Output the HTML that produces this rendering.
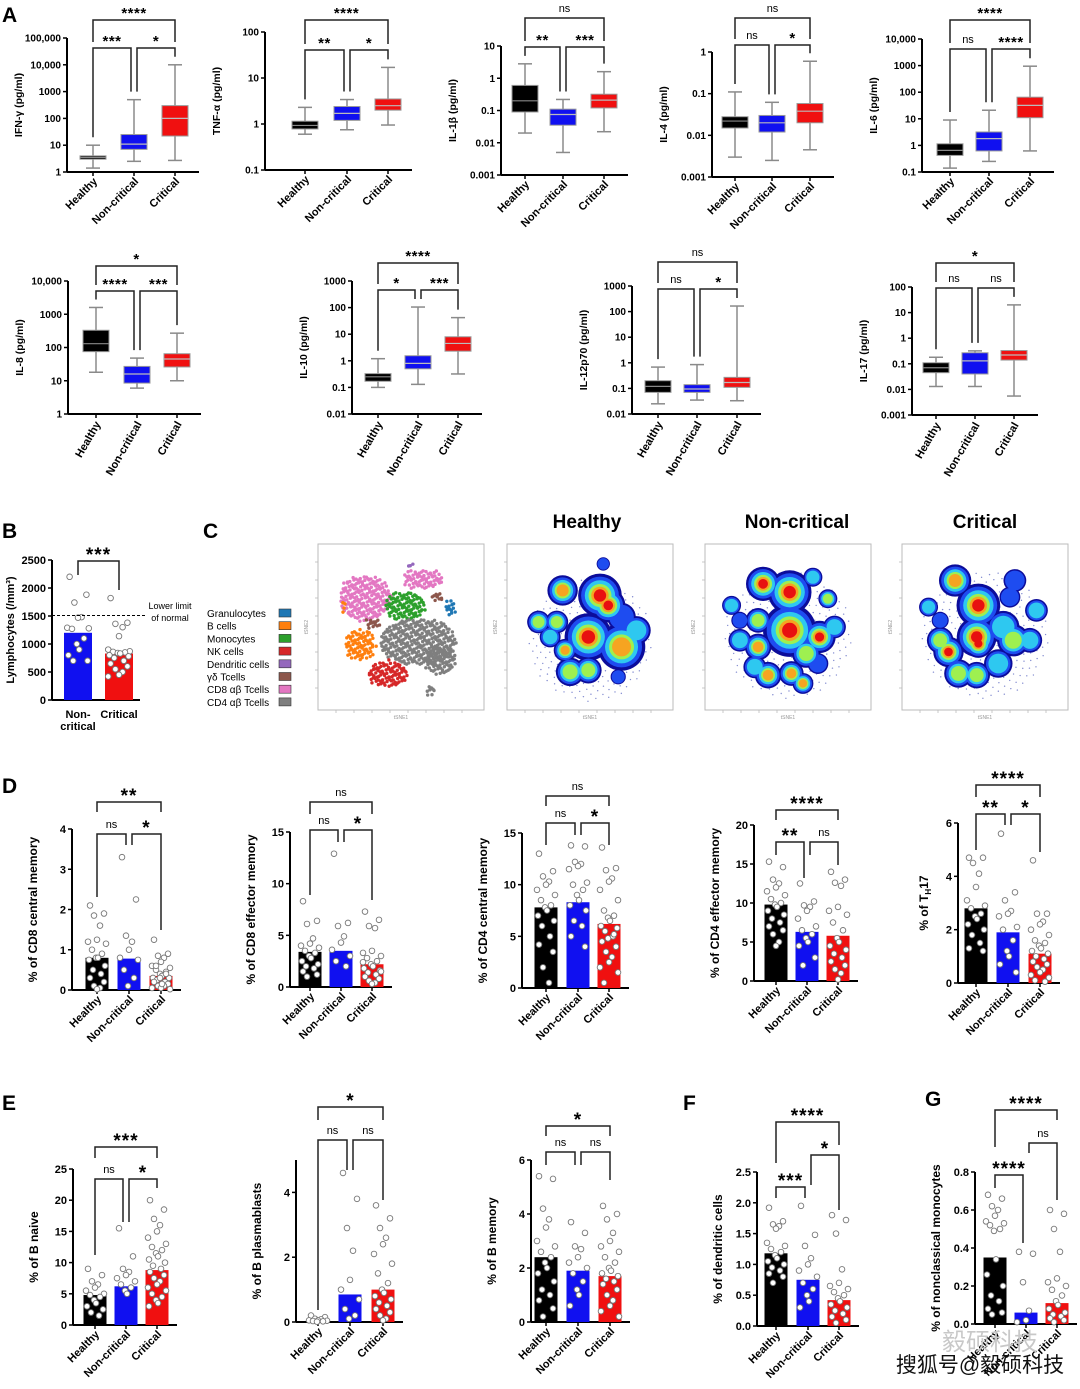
<!DOCTYPE html>
<html><head><meta charset="utf-8">
<style>
html,body{margin:0;padding:0;background:#fff;}
svg{display:block;font-family:"Liberation Sans","Noto Sans CJK SC",sans-serif;}
</style></head>
<body>
<svg id="fig" width="1080" height="1389" viewBox="0 0 1080 1389" xmlns="http://www.w3.org/2000/svg">
<rect x="0" y="0" width="1080" height="1389" fill="#fff"/>
</svg>
<script>
// ===== DATA =====
const categories = ['Healthy','Non-critical','Critical'];
// box stats per group: [min, q1, median, q3, max]
const ifnStats  = [[1.4,3,3.5,4,10],[2.5,7,11,25,500],[2.7,22,100,300,10000]];
const tnfStats  = [[0.6,0.78,0.93,1.15,2.3],[0.75,1.2,1.7,2.4,3.4],[0.95,2,2.5,3.5,17]];
const il1bStats = [[0.02,0.09,0.2,0.6,2.8],[0.005,0.035,0.075,0.11,0.22],[0.022,0.12,0.21,0.32,1.6]];
const il4Stats  = [[0.003,0.015,0.022,0.028,0.11],[0.0025,0.012,0.02,0.03,0.062],[0.0045,0.02,0.038,0.058,0.6]];
const il6Stats  = [[0.14,0.42,0.65,1.15,9],[0.25,0.62,1.8,3.2,21],[0.62,11,32,65,950]];
const il8Stats  = [[18,75,130,330,1600],[6,8.5,16,27,48],[10,26,45,65,270]];
const il10Stats = [[0.1,0.17,0.25,0.33,1.2],[0.13,0.5,0.8,1.55,105],[0.32,2.3,4.5,8,42]];
const il12Stats = [[0.025,0.07,0.12,0.2,0.68],[0.035,0.07,0.095,0.14,0.85],[0.033,0.11,0.17,0.27,165]];
const il17Stats = [[0.013,0.045,0.07,0.11,0.18],[0.013,0.04,0.13,0.27,0.32],[0.0055,0.14,0.22,0.33,20]];
const ifnTicks  = ['1','10','100','1000','10,000','100,000'];
const tnfTicks  = ['0.1','1','10','100'];
const il1bTicks = ['0.001','0.01','0.1','1','10'];
const il4Ticks  = ['0.001','0.01','0.1','1'];
const il6Ticks  = ['0.1','1','10','100','1000','10,000'];
const il8Ticks  = ['1','10','100','1000','10,000'];
const il10Ticks = ['0.01','0.1','1','10','100','1000'];
const il12Ticks = ['0.01','0.1','1','10','100','1000'];
const il17Ticks = ['0.001','0.01','0.1','1','10','100'];

// bar means
const cd8cmMeans = [0.8,0.78,0.35];
const cd8emMeans = [3.4,3.5,2.2];
const cd4cmMeans = [7.8,8.3,6.2];
const cd4emMeans = [9.8,6.3,5.8];
const th17Means  = [2.8,1.9,1.1];
const bnaiveMeans= [4.8,6.2,8.8];
const bplasMeans = [0.05,0.85,1.0];
const bmemMeans  = [2.4,1.9,1.7];
const dcMeans    = [1.18,0.75,0.42];
const ncmMeans   = [0.35,0.06,0.11];
// individual points
const cd8cmPts = [[2.1,1.9,1.85,1.6,1.25,1.2,1.15,1.0,0.9,0.8,0.8,0.75,0.6,0.5,0.4,0.3,0.2,0.1,0.05,0.02],[3.3,2.25,1.35,1.2,1.0,0.8,0.75,0.5,0.3,0.1],[1.25,0.9,0.85,0.8,0.7,0.6,0.55,0.5,0.45,0.4,0.35,0.3,0.3,0.25,0.2,0.2,0.15,0.1,0.1,0.05,0.05,0.02,0.6,0.4,0.3,0.15]];
const cd8emPts = [[8.3,6.4,6.1,4.7,4.2,4,3.8,3.5,3.3,3,2.8,2.5,2.2,2,1.8,1.5,1.2,1.0],[12.9,6.2,5.9,4.9,4.3,3.6,3,2.5,2],[7.3,6.5,5.9,5.7,3.5,3.3,3,2.8,2.5,2.2,2,1.8,1.6,1.4,1.2,1,0.8,0.6,0.4,0.3,2.4,1.5]];
const cd4cmPts = [[13,11.3,10.8,10.3,10,9.5,9,8.5,8,7.8,7.5,7,6.5,6,5,4.2,3.5,2,0.5],[13.8,13.7,12.2,12,11.8,11.5,10.2,10,9.5,9,8.5,8,7.5,6.5,6,5,4],[13.6,11.6,11.4,10.6,10.3,9.5,8.5,7.5,7,6.8,6.5,6,5.8,5.5,5,4.5,4,3.5,3,2.5,2,1.5,0.5,5.2,4.8]];
const cd4emPts = [[15.3,14.6,13,12.5,12,11.5,11,10.5,10,9.8,9.5,9,8.5,8,7.5,7,6.5,6,5,4.5],[12.5,10.2,9.7,9.5,9,8,7,6.5,6,5.5,5,4.5,3,2],[14,13,12.6,12.2,9.5,9,8.5,7.5,6.5,5.5,5,4.5,4,3.5,3,2.5,2,1.5,1,0.2]];
const th17Pts  = [[4.7,4.7,4.5,4.1,3.6,3.1,2.9,2.8,2.6,2.5,2.4,2.2,2,1.8,1.5,1.3,1.2],[5.6,3.4,3.1,2.7,2.6,2.5,2.1,2,1.6,1.2,1,0.7,0.4],[4.6,2.6,2.6,2.3,2.2,2,1.8,1.6,1.5,1.4,1.3,1.2,1.1,1,0.9,0.8,0.7,0.6,0.5,0.4,0.3,0.2,0.1,0.05]];
const bnaivePts= [[9,8,7,6.5,6,5.5,5,4.8,4.5,4,3.5,3,2.5,2,1.5],[15.5,11,9,8.5,8,7.5,7,6.5,6,5.5,5],[20,18.5,17,16,15,14,13,12.5,12,11.5,11,10.5,10,9.5,9,8.5,8,7.5,7,6.5,6,5.5,5,4.5,4,3.5,3]];
const bplasPts = [[0.2,0.15,0.1,0.08,0.05,0.05,0.04,0.03,0.02,0.01],[4.6,3.8,2.9,2.2,1.3,1.0,0.7,0.4,0.2,0.1],[3.6,3.2,2.9,2.6,2.4,2.1,1.8,1.5,1.2,1,0.9,0.8,0.7,0.6,0.5,0.4,0.3,0.2,0.1,0.05]];
const bmemPts  = [[5.4,5.3,4.2,3.8,3.5,3,2.8,2.6,2.4,2.2,2,1.8,1.5,1.2,1.0,0.8,0.5,0.2],[3.7,3.3,2.8,2.7,2.4,2.2,2,1.8,1.5,1.2,1,0.6],[4.3,4,3.8,3.3,3,2.8,2.6,2.4,2.2,2,1.9,1.8,1.7,1.6,1.5,1.4,1.2,1,0.8,0.6,0.4,0.2]];
const dcPts    = [[1.92,1.7,1.65,1.62,1.58,1.35,1.3,1.25,1.2,1.15,1.1,1.05,1.0,0.95,0.9,0.85,0.8,0.7],[1.95,1.48,1.3,1.1,1.0,0.9,0.8,0.7,0.6,0.5,0.4,0.3],[1.8,1.72,1.5,0.92,0.7,0.65,0.6,0.55,0.5,0.45,0.4,0.35,0.3,0.25,0.2,0.15,0.1,0.05]];
const ncmPts   = [[0.68,0.66,0.62,0.6,0.57,0.54,0.53,0.52,0.5,0.49,0.34,0.26,0.2,0.15,0.12,0.08,0.06,0.05],[0.38,0.37,0.22,0.07,0.02,0.01],[0.6,0.58,0.5,0.38,0.24,0.22,0.2,0.18,0.15,0.12,0.1,0.08,0.06,0.05,0.04,0.03,0.02,0.01]];
// panel B
const lymphGroups = ['Non-\ncritical','Critical'];
const lymphMeans = [1200,830];
const lymphPts = [[2200,1880,1740,1480,1470,1290,1280,1270,1100,1000,900,800,700,700],[1820,1380,1360,1300,1140,900,870,860,850,840,830,800,780,750,700,650,600,550,500,450,420]];
const lymphTicks = [0,500,1000,1500,2000,2500];
const lymphLowerLimit = 1510;
// tSNE legend
const popNames = ['Granulocytes','B cells','Monocytes','NK cells','Dendritic cells','γδ Tcells','CD8 αβ Tcells','CD4 αβ Tcells'];
const popColors = ['#1f77b4','#ff7f0e','#2ca02c','#d62728','#9467bd','#8c564b','#e377c2','#7f7f7f'];

// ===== HELPERS =====
const NS='http://www.w3.org/2000/svg';
const svg=document.getElementById('fig');
const grpColors=['#000000','#1010f0','#f01010'];
function el(tag,attrs,parent,text){
  const e=document.createElementNS(NS,tag);
  for(const k in attrs) e.setAttribute(k,attrs[k]);
  if(text!==undefined) e.textContent=text;
  (parent||svg).appendChild(e); return e;
}
function group(name){const g=el('g',{});return g;}
function line(g,x1,y1,x2,y2,c,w){return el('line',{x1,y1,x2,y2,stroke:c||'#000','stroke-width':w||1.5},g);}
function txt(g,x,y,s,opt){opt=opt||{};return el('text',{x,y,'font-size':opt.size||11,'font-weight':opt.weight||'bold','text-anchor':opt.anchor||'middle',fill:opt.fill||'#000',transform:opt.rot!==undefined?`rotate(${opt.rot} ${x} ${y})`:''},g,s);}
function sigLabel(g,x,y,s,big){
  if(s==='ns') txt(g,x,y,s,{size:11,weight:'normal'});
  else {const t=txt(g,x,y+(big?6:4),s,{size:big?19:15});t.setAttribute('letter-spacing',big?'1':'0.5');}
}
function bracket(g,xs,b,big){ // [i,j,y,legLeftEnd,legRightEnd,label]
  const [i,j,y,l1,l2,lab]=b;
  const xa=xs[i]+(i===1?3:0), xb=xs[j]-(j===1?3:0);
  el('polyline',{points:`${xa},${l1} ${xa},${y} ${xb},${y} ${xb},${l2}`,fill:'none',stroke:'#222','stroke-width':1.5},g);
  sigLabel(g,(xa+xb)/2,y-6,lab,big);
}
function catLabels(g,xs,bot,rot){
  xs.forEach((x,i)=>{
    const t=txt(g,x+5,bot+10,categories[i],{size:11,anchor:'end',rot:rot});
    
    
  });
}

// ===== BOX PANELS (A) =====
const boxPanels=[
 {name:'ifn-gamma',title:'IFN-γ (pg/ml)',stats:ifnStats,ticks:ifnTicks,lmin:0,lmax:5,ax:67,top:38,bot:172,xs:[93,134,175],tY:20,lY:48,sig:['****','***','*'],rot:-45},
 {name:'tnf-alpha',title:'TNF-α (pg/ml)',stats:tnfStats,ticks:tnfTicks,lmin:-1,lmax:2,ax:265,top:32,bot:170,xs:[305,347,388],tY:20,lY:50,sig:['****','**','*'],rot:-45},
 {name:'il-1b',title:'IL-1β (pg/ml)',stats:il1bStats,ticks:il1bTicks,lmin:-3,lmax:1,ax:501,top:46,bot:175,xs:[525,563,604],tY:18,lY:47,sig:['ns','**','***'],rot:-45},
 {name:'il-4',title:'IL-4 (pg/ml)',stats:il4Stats,ticks:il4Ticks,lmin:-3,lmax:0,ax:712,top:52,bot:177,xs:[735,772,810],tY:18,lY:45,sig:['ns','ns','*'],rot:-45},
 {name:'il-6',title:'IL-6 (pg/ml)',stats:il6Stats,ticks:il6Ticks,lmin:-1,lmax:4,ax:922,top:39,bot:172,xs:[950,989,1030],tY:20,lY:49,sig:['****','ns','****'],rot:-45},
 {name:'il-8',title:'IL-8 (pg/ml)',stats:il8Stats,ticks:il8Ticks,lmin:0,lmax:4,ax:68,top:281,bot:414,xs:[96,137,177],tY:266,lY:291,sig:['*','****','***'],rot:-60},
 {name:'il-10',title:'IL-10 (pg/ml)',stats:il10Stats,ticks:il10Ticks,lmin:-2,lmax:3,ax:352,top:281,bot:414,xs:[378,418,458],tY:263,lY:290,sig:['****','*','***'],rot:-60},
 {name:'il-12p70',title:'IL-12p70 (pg/ml)',stats:il12Stats,ticks:il12Ticks,lmin:-2,lmax:3,ax:632,top:286,bot:414,xs:[658,697,737],tY:262,lY:289,sig:['ns','ns','*'],rot:-60},
 {name:'il-17',title:'IL-17 (pg/ml)',stats:il17Stats,ticks:il17Ticks,lmin:-3,lmax:2,ax:912,top:287,bot:415,xs:[936,975,1014],tY:263,lY:288,sig:['*','ns','ns'],rot:-60}
];
boxPanels.forEach(p=>{
  const g=group(p.name+'-boxplot');
  const y=v=>p.bot-(Math.log10(v)-p.lmin)/(p.lmax-p.lmin)*(p.bot-p.top);
  line(g,p.ax,p.top,p.ax,p.bot,'#000',2);
  line(g,p.ax,p.bot,p.xs[2]+24,p.bot,'#000',2);
  p.ticks.forEach((t,i)=>{
    const yy=p.bot-i/(p.lmax-p.lmin)*(p.bot-p.top);
    line(g,p.ax-4,yy,p.ax,yy,'#000',1.5);
    txt(g,p.ax-6,yy+3.5,t,{size:10,anchor:'end'});
  });
  p.xs.forEach(x=>line(g,x,p.bot,x,p.bot+4,'#000',1.5));
  const yt=txt(g,p.ax-45,(p.top+p.bot)/2,p.title,{size:10.5,rot:-90});
  
  
  const bw=26;
  p.stats.forEach((s,i)=>{
    const x=p.xs[i];
    const bg=el('g',{},g);
    
    
    line(bg,x,y(s[0]),x,y(s[4]),'#8a8a8a',1.5);
    line(bg,x-7,y(s[0]),x+7,y(s[0]),'#8a8a8a',1.5);
    line(bg,x-7,y(s[4]),x+7,y(s[4]),'#8a8a8a',1.5);
    el('rect',{x:x-bw/2,y:y(s[3]),width:bw,height:Math.max(2,y(s[1])-y(s[3])),fill:grpColors[i],stroke:'#999','stroke-width':1},bg);
    line(bg,x-bw/2,y(s[2]),x+bw/2,y(s[2]),i===0?'#888':'#bbb',1.2);
  });
  const yMax=p.stats.map(s=>y(s[4])-8);
  bracket(g,p.xs,[0,2,p.tY,p.lY-6,p.lY-6,p.sig[0]]);
  bracket(g,p.xs,[0,1,p.lY,yMax[0],yMax[1],p.sig[1]]);
  bracket(g,p.xs,[1,2,p.lY,yMax[1],yMax[2],p.sig[2]]);
  catLabels(g,p.xs,p.bot,p.rot);
});

// ===== BAR PANELS (D,E,F,G) =====
const barPanels=[
 {name:'cd8-central-memory',title:'% of CD8 central memory',means:cd8cmMeans,pts:cd8cmPts,max:4,step:1,dec:0,ax:72,top:829,bot:990,xs:[97,129,161],br:[[0,2,802,812,812,'**'],[0,1,834,897,845,'ns'],[1,2,834,845,930,'*']]},
 {name:'cd8-effector-memory',title:'% of CD8 effector memory',means:cd8emMeans,pts:cd8emPts,max:15,step:5,dec:0,ax:290,top:832,bot:987,xs:[310,341,372],br:[[0,2,802,814,814,'ns'],[0,1,830,895,842,'ns'],[1,2,830,842,900,'*']]},
 {name:'cd4-central-memory',title:'% of CD4 central memory',means:cd4cmMeans,pts:cd4cmPts,max:15,step:5,dec:0,ax:522,top:833,bot:988,xs:[546,578,609],br:[[0,2,796,806,806,'ns'],[0,1,823,845,835,'ns'],[1,2,823,835,845,'*']]},
 {name:'cd4-effector-memory',title:'% of CD4 effector memory',means:cd4emMeans,pts:cd4emPts,max:20,step:5,dec:0,ax:754,top:825,bot:981,xs:[776,807,838],br:[[0,2,810,820,820,'****'],[0,1,842,855,878,'**'],[1,2,842,855,865,'ns']]},
 {name:'th17',title:'% of TH17',means:th17Means,pts:th17Pts,max:6,step:2,dec:0,ax:958,top:823,bot:983,xs:[976,1008,1040],br:[[0,2,785,797,797,'****'],[0,1,814,850,825,'**'],[1,2,814,825,852,'*']]},
 {name:'b-naive',title:'% of B naive',means:bnaiveMeans,pts:bnaivePts,max:25,step:5,dec:0,ax:73,top:1169,bot:1325,xs:[95,126,157],br:[[0,2,1147,1158,1158,'***'],[0,1,1179,1255,1222,'ns'],[1,2,1179,1222,1188,'*']]},
 {name:'b-plasmablasts',title:'% of B plasmablasts',means:bplasMeans,pts:bplasPts,max:5,step:2,tickMax:4,dec:0,ax:296,top:1160,bot:1322,xs:[318,350,383],br:[[0,2,1107,1120,1120,'*'],[0,1,1140,1310,1170,'ns'],[1,2,1140,1170,1200,'ns']]},
 {name:'b-memory',title:'% of B memory',means:bmemMeans,pts:bmemPts,max:6,step:2,dec:0,ax:531,top:1160,bot:1322,xs:[546,578,610],br:[[0,2,1126,1136,1136,'*'],[0,1,1152,1165,1165,'ns'],[1,2,1152,1165,1180,'ns']]},
 {name:'dendritic-cells',title:'% of dendritic cells',means:dcMeans,pts:dcPts,max:2.5,step:0.5,dec:1,ax:757,top:1172,bot:1326,xs:[776,808,839],br:[[0,2,1122,1163,1145,'****'],[1,2,1155,1185,1210,'*'],[0,1,1187,1198,1198,'***']]},
 {name:'nonclassical-monocytes',title:'% of nonclassical monocytes',means:ncmMeans,pts:ncmPts,max:0.8,step:0.2,dec:1,ax:975,top:1172,bot:1324,xs:[995,1026,1057],br:[[0,2,1110,1147,1120,'****'],[1,2,1143,1153,1200,'ns'],[0,1,1175,1188,1243,'****']]}
];
const jit=[-7,7,-3,3,0,-9,9,-5,5,-1,1,-8,8,-4,4];
barPanels.forEach(p=>{
  const g=group(p.name+'-bar-chart');
  const y=v=>p.bot-v/p.max*(p.bot-p.top);
  line(g,p.ax,p.top,p.ax,p.bot,'#000',2);
  line(g,p.ax,p.bot,p.xs[2]+20,p.bot,'#000',2);
  const tm=p.tickMax!==undefined?p.tickMax:p.max;
  for(let v=0;v<=tm+1e-9;v+=p.step){
    line(g,p.ax-4,y(v),p.ax,y(v),'#000',1.5);
    txt(g,p.ax-6,y(v)+4,v.toFixed(p.dec),{size:11,anchor:'end'});
  }
  p.xs.forEach(x=>line(g,x,p.bot,x,p.bot+4,'#000',1.5));
  let yt;
  if(p.title==='% of TH17'){
    yt=el('text',{x:p.ax-30,y:(p.top+p.bot)/2,'font-size':12,'font-weight':'bold','text-anchor':'middle',transform:`rotate(-90 ${p.ax-30} ${(p.top+p.bot)/2})`},g);
    el('tspan',{},yt,'% of T');el('tspan',{'font-size':8,dy:3},yt,'H');el('tspan',{dy:-3},yt,'17');
  } else yt=txt(g,p.ax-35,(p.top+p.bot)/2,p.title,{size:12,rot:-90});
  
  
  const bw=23;
  p.means.forEach((m,i)=>{
    const r=el('rect',{x:p.xs[i]-bw/2,y:y(m),width:bw,height:p.bot-y(m),fill:grpColors[i]},g);
    
    
  });
  p.pts.forEach((arr,i)=>{
    arr.forEach((v,k)=>{
      const c=el('circle',{cx:p.xs[i]+jit[k%jit.length],cy:y(v),r:2.8,fill:'#fff',stroke:'#777','stroke-width':0.9},g);
      
      
    });
  });
  p.br.forEach(b=>bracket(g,p.xs,b,true));
  catLabels(g,p.xs,p.bot,-45);
});

// ===== PANEL B =====
(function(){
  const g=group('lymphocytes-bar-chart');
  const ax=52,top=560,bot=700,xs=[78,119];
  const y=v=>bot-v/2500*(bot-top);
  line(g,ax,top,ax,bot,'#000',2);line(g,ax,bot,140,bot,'#000',2);
  lymphTicks.forEach(v=>{line(g,ax-4,y(v),ax,y(v),'#000',1.5);txt(g,ax-6,y(v)+4,String(v),{size:11,anchor:'end'});});
  lymphMeans.forEach((m,i)=>{
    const r=el('rect',{x:xs[i]-14,y:y(m),width:28,height:bot-y(m),fill:grpColors[i+1]},g);
    
    
  });
  lymphPts.forEach((arr,i)=>arr.forEach((v,k)=>{
    const c=el('circle',{cx:xs[i]+jit[k%jit.length]*1.2,cy:y(v),r:2.8,fill:'#fff',stroke:'#777','stroke-width':0.9},g);
    
    
  }));
  el('line',{x1:ax,y1:y(lymphLowerLimit),x2:145,y2:y(lymphLowerLimit),stroke:'#000','stroke-width':1,'stroke-dasharray':'3,2'},g);
  txt(g,170,609,'Lower limit',{size:9,weight:'normal'});
  txt(g,170,621,'of normal',{size:9,weight:'normal'});
  el('polyline',{points:`${xs[0]},575 ${xs[0]},561 ${xs[1]},561 ${xs[1]},590`,fill:'none',stroke:'#222','stroke-width':1.5},g);
  sigLabel(g,(xs[0]+xs[1])/2,555,'***',true);
  const yt=txt(g,14,630,'Lymphocytes (/mm³)',{size:11,rot:-90});
  
  
  txt(g,xs[0],718,'Non-',{size:11});txt(g,xs[0],730,'critical',{size:11});txt(g,xs[1],718,'Critical',{size:11});
})();

// ===== PANEL C (tSNE) =====
const boxes=[318,507,705,902]; const bTop=544, bSize=166;
const headers=[['Healthy',587],['Non-critical',797],['Critical',985]];
(function(){
  const g=group('tsne-panel');
  boxes.forEach((bx,bi)=>{
    const r=el('rect',{x:bx,y:bTop,width:bSize,height:bSize,fill:'#fff',stroke:'#bbb','stroke-width':1},g);
    
    
    for(let k=1;k<9;k++){line(g,bx+k*18,bTop+bSize,bx+k*18,bTop+bSize+3,'#bbb',0.8);line(g,bx-3,bTop+k*18,bx,bTop+k*18,'#bbb',0.8);}
    txt(g,bx+bSize/2,bTop+bSize+9,'tSNE1',{size:5,weight:'normal',fill:'#999'});
    txt(g,bx-10,bTop+bSize/2,'tSNE2',{size:5,weight:'normal',fill:'#999',rot:-90});
  });
  headers.forEach(h=>{const t=txt(g,h[1],528,h[0],{size:19});});
  popNames.forEach((n,i)=>{
    const yy=617+i*12.7;
    const le=el('g',{},g);
    
    
    txt(le,207,yy,n,{size:10,weight:'normal',anchor:'start'});
    el('rect',{x:279,y:yy-8,width:12,height:8,fill:popColors[i],stroke:'#333','stroke-width':0.6},le);
  });
  const clusters=[[365,598,26,23,6],[423,579,20,10,6],[405,606,20,15,2],[418,642,38,24,7],[440,660,16,14,7],[360,645,15,15,1],[388,674,21,13,3],[450,608,5,9,0],[372,623,8,5,5],[437,597,5,6,5],[412,565,4,3,4],[344,607,3,5,1],[430,690,5,5,7]];
  clusters.forEach(c=>{
    const [cx,cy,rx,ry,ci]=c;
    for(let yy=cy-ry;yy<=cy+ry;yy+=3){
      for(let xx=cx-rx;xx<=cx+rx;xx+=3){
        const dx=(xx-cx)/rx,dy=(yy-cy)/ry;
        if(dx*dx+dy*dy>1) continue;
        const j1=Math.sin(xx*12.9898+yy*78.233)*1.2, j2=Math.cos(xx*39.3+yy*11.1)*1.2;
        el('circle',{cx:xx+j1,cy:yy+j2,r:1.7,fill:popColors[ci]},g);
      }
    }
  });
  // density heatmaps: blobs [fx,fy,r,level]
  const densHealthy=[[.5,.58,62,0],[.335,.28,13,4],[.56,.31,20,5],[.61,.37,15,5],[.19,.47,9,3],[.30,.47,9,3],[.49,.56,22,5],[.69,.62,22,4],[.35,.64,9,4],[.26,.56,8,2],[.38,.77,12,3],[.49,.76,11,3],[.58,.12,4,1],[.67,.80,5,1],[.78,.52,12,2],[.69,.44,12,1]];
  const densNonCrit=[[.5,.55,64,0],[.35,.24,15,5],[.51,.29,20,5],[.16,.37,7,2],[.21,.46,6,1],[.32,.46,10,3],[.51,.52,25,5],[.69,.56,14,5],[.74,.33,7,3],[.65,.20,7,2],[.32,.62,11,4],[.21,.58,9,2],[.38,.79,11,4],[.52,.78,10,4],[.59,.84,8,4],[.78,.50,9,2],[.61,.66,12,3],[.30,.74,9,2],[.68,.72,8,1]];
  const densCrit=[[.5,.55,64,0],[.32,.22,14,4],[.46,.37,20,5],[.16,.38,7,2],[.23,.46,6,1],[.45,.56,18,5],[.46,.60,12,5],[.28,.65,13,5],[.67,.58,14,3],[.81,.40,9,2],[.68,.22,9,1],[.34,.78,12,3],[.45,.79,11,3],[.58,.72,12,2],[.65,.32,8,1],[.61,.50,14,2],[.77,.58,10,2],[.23,.58,11,3]];
  const lvlCol=['#0c0c9a','#1e4cf0','#2ec8f0','#9ef050','#f6a421','#e81010'];
  const lvlScale=[0.95,0.82,0.66,0.5,0.38,0.27];
  [densHealthy,densNonCrit,densCrit].forEach((blobs,bi)=>{
    const bx=boxes[bi+1];
    const hg=el('g',{},g);
    
    
    const b0=blobs[0];
    // sparse speckle background
    for(let a=0;a<260;a++){
      const ang=a*2.39996, rr=Math.sqrt(a/260)*b0[2];
      el('circle',{cx:bx+b0[0]*bSize+Math.cos(ang)*rr,cy:bTop+b0[1]*bSize+Math.sin(ang)*rr,r:0.7,fill:'#3040b0',opacity:0.6},hg);
    }
    for(let L=0;L<6;L++){
      blobs.slice(1).forEach(b=>{
        if(b[3]<L) return;
        el('circle',{cx:bx+b[0]*bSize,cy:bTop+b[1]*bSize,r:(b[2]+3)*lvlScale[L],fill:lvlCol[L]},hg);
      });
    }
  });
})();

// ===== PANEL LETTERS & WATERMARK =====
[['A',2,22],['B',2,538],['C',203,538],['D',2,793],['E',2,1110],['F',683,1110],['G',925,1106]].forEach(l=>{
  const t=txt(svg,l[1],l[2],l[0],{size:21,anchor:'start'});
  
  
});
const wm1=txt(svg,990,1350,'毅硕科技',{size:24,weight:'normal',fill:'#c8c8c8'});


const wm2=txt(svg,980,1372,'搜狐号@毅硕科技',{size:21,weight:'normal',fill:'#111'});


</script>
</body></html>
